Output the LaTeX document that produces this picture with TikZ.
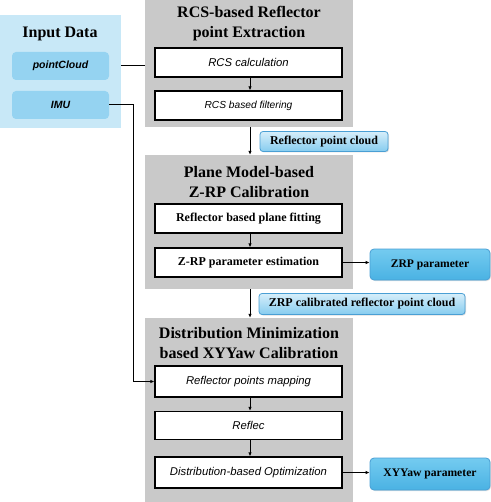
\documentclass[tikz,border=0pt]{standalone}
\usepackage{fontspec}
\setmainfont{Liberation Serif}
\setsansfont{Liberation Sans}
\usetikzlibrary{arrows.meta,shadows}
\definecolor{panelgray}{HTML}{C9C9C9}
\definecolor{inpanel}{HTML}{C8E8F7}
\definecolor{inbox}{HTML}{95D3F1}
\definecolor{lblborder}{HTML}{4A9FD4}
\definecolor{lbltop}{HTML}{D6EEFA}
\definecolor{lblbot}{HTML}{86CCEF}
\definecolor{partop}{HTML}{74CBF0}
\definecolor{parbot}{HTML}{4AB2E3}
\tikzset{
  panel/.style={fill=panelgray, draw=none, inner sep=0pt},
  ptitle/.style={font=\bfseries\fontsize{16}{20}\selectfont, align=center, inner sep=0pt},
  stepbox/.style={draw=black, fill=white, line width=1.3pt, minimum width=187pt, minimum height=29pt, inner sep=0pt},
  itbox/.style={stepbox, font=\sffamily\itshape\fontsize{11.3}{13}\selectfont},
  sfbox/.style={stepbox, font=\bfseries\fontsize{12}{14}\selectfont},
  inbx/.style={fill=inbox, draw=none, rounded corners=4pt, minimum width=97pt, minimum height=28pt, inner sep=0pt, font=\sffamily\itshape\bfseries\fontsize{10.5}{12}\selectfont},
  lbl/.style={draw=lblborder, line width=0.8pt, rounded corners=3pt, top color=lbltop, bottom color=lblbot, inner sep=0pt, drop shadow={opacity=0.25, shadow xshift=1pt, shadow yshift=-1pt}, font=\bfseries\fontsize{12}{14}\selectfont},
  param/.style={draw=lblborder, line width=0.8pt, rounded corners=4pt, top color=partop, bottom color=parbot, minimum width=120pt, inner sep=0pt, drop shadow={opacity=0.25, shadow xshift=1pt, shadow yshift=-1pt}, font=\bfseries\fontsize{11.6}{14}\selectfont},
  conn/.style={line width=1pt, -{Latex[length=4pt,width=3.5pt]}},
  plain/.style={line width=1pt}
}
\begin{document}
\begin{tikzpicture}[x=1pt,y=-1pt]
\useasboundingbox (0,0) rectangle (490,502);
% input panel
\node[fill=inpanel, minimum width=123pt, minimum height=113pt, inner sep=0pt] (inp) at (59.5,71.5) {};
\node[ptitle] (intitle) at (60,34) {Input Data};
\node[inbx] (pc) at (60.5,66) {pointCloud};
\node[inbx] (imu) at (60.5,105) {IMU};
% panel 1
\node[panel, minimum width=208pt, minimum height=127pt] (p1) at (249,63.5) {};
\node[ptitle] (t1) at (249,24) {RCS-based Reflector\\point Extraction};
\node[itbox] (rcs) at (248.5,62.5) {RCS calculation};
\node[itbox, font=\sffamily\itshape\fontsize{10.2}{12}\selectfont] (filt) at (248.5,105.5) {RCS based filtering};
% panel 2
\node[panel, minimum width=208pt, minimum height=134pt] (p2) at (249,222) {};
\node[ptitle] (t2) at (249,182) {Plane Model-based\\Z-RP Calibration};
\node[sfbox] (fit) at (248.5,218.5) {Reflector based plane fitting};
\node[sfbox] (zrp) at (248.5,262.5) {Z-RP parameter estimation};
% panel 3
\node[panel, minimum width=208pt, minimum height=190pt] (p3) at (249,413) {};
\node[ptitle] (t3) at (249,343) {Distribution Minimization\\based XYYaw Calibration};
\node[itbox, minimum height=31pt] (map) at (248.5,381.5) {Reflector points mapping};
\node[itbox, minimum height=28pt] (refl) at (248.5,425.5) {Reflec};
\node[itbox, minimum height=31pt] (opt) at (248.5,472.5) {Distribution-based Optimization};
% labels
\node[lbl, minimum width=128pt, minimum height=20pt] (l1) at (324,141.5) {Reflector point cloud};
\node[lbl, minimum width=206pt, minimum height=21pt] (l2) at (362,304) {ZRP calibrated reflector point cloud};
\node[param, minimum height=31pt] (zp) at (430,264.5) {ZRP parameter};
\node[param, minimum height=32pt] (xp) at (430,474) {XYYaw parameter};
% connectors
\draw[conn] (rcs.south -| 250,0) -- (filt.north -| 250,0);
\draw[conn] (p1.south -| 250,0) -- (p2.north -| 250,0);
\draw[conn] (fit.south -| 250,0) -- (zrp.north -| 250,0);
\draw[conn] (zrp.east) -- (zrp.east -| zp.west);
\draw[conn] (p2.south -| 250,0) -- (p3.north -| 250,0);
\draw[conn] (map.south -| 250,0) -- (refl.north -| 250,0);
\draw[conn] (refl.south -| 250,0) -- (opt.north -| 250,0);
\draw[conn] (opt.east) -- (opt.east -| xp.west);
\draw[plain] (inp.east |- pc) -- (p1.west |- pc);
\draw[conn] (imu.east) -- ++(24,0) |- (map.west);
\end{tikzpicture}
\end{document}
